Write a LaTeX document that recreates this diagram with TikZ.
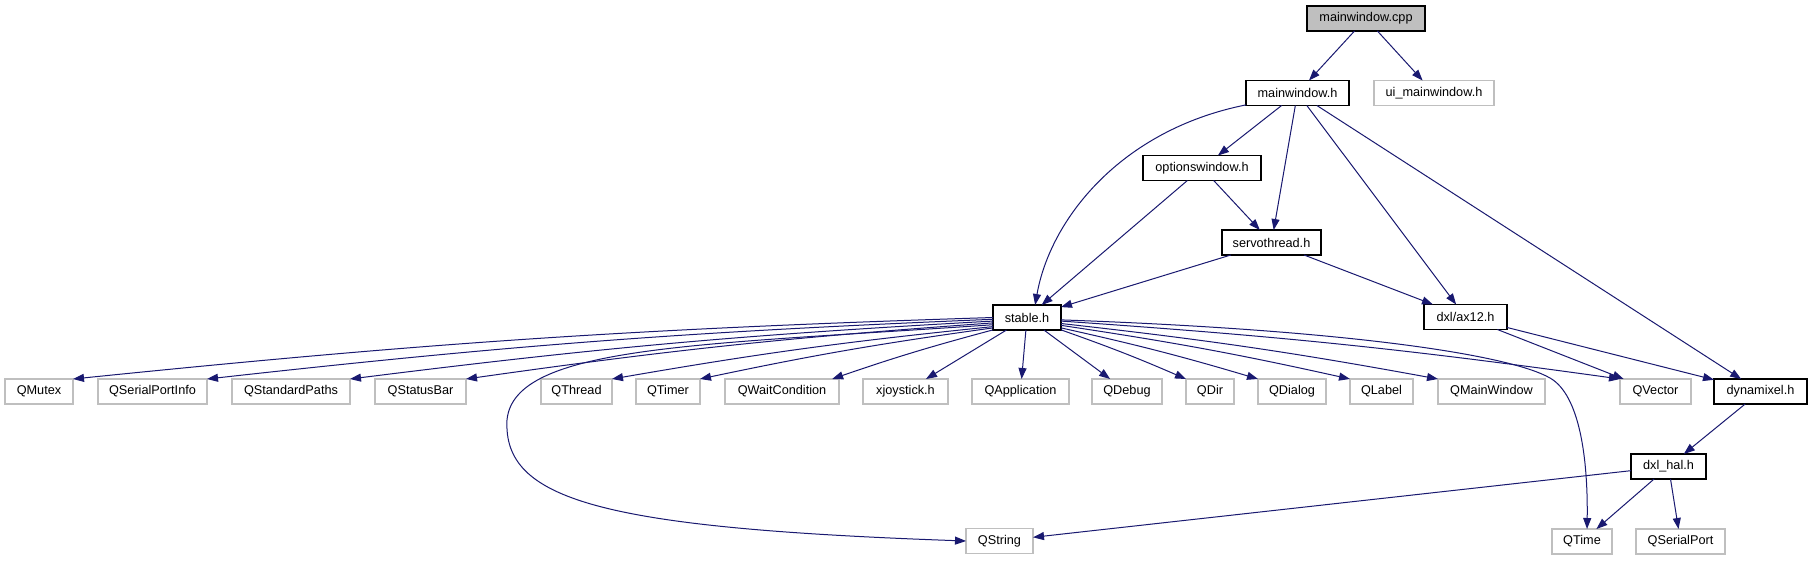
\documentclass[tikz,border=0pt]{standalone}
\usepackage{fontspec}
\setmainfont{Liberation Sans}
\usetikzlibrary{arrows.meta}
\definecolor{edgeblue}{HTML}{191970}
\definecolor{lgray}{HTML}{BFBFBF}
\tikzset{
  box/.style={draw=black, line width=1.1pt, minimum height=25pt, inner sep=0pt, outer sep=0pt,
    font=\fontsize{12.7}{15}\selectfont, text=black},
  ext/.style={box, draw=lgray},
  edge/.style={draw=edgeblue, line width=1pt, -{Triangle[length=11pt,width=8pt]}},
}
\begin{document}
\begin{tikzpicture}[x=1pt,y=-1pt]
\fill[white] (0,0) rectangle (1812,560);
\useasboundingbox (0,0) rectangle (1812,560);
% nodes
\node[box,fill=lgray,minimum width=118pt] (cpp) at (1366,18.5) {mainwindow.cpp};
\node[box,minimum width=103pt] (mwh) at (1297.5,93) {mainwindow.h};
\node[ext,minimum width=120pt] (ui) at (1434,93) {ui\_mainwindow.h};
\node[box,minimum width=118pt] (opt) at (1202,168) {optionswindow.h};
\node[box,minimum width=99pt] (servo) at (1271.5,242.5) {servothread.h};
\node[box,minimum width=68pt] (stable) at (1027,317.5) {stable.h};
\node[box,minimum width=83pt] (ax12) at (1465.5,317) {dxl/ax12.h};
\node[ext,minimum width=68pt] (qmutex) at (39,391.5) {QMutex};
\node[ext,minimum width=109pt] (qspi) at (152.5,391.5) {QSerialPortInfo};
\node[ext,minimum width=118pt] (qsp) at (291,391.5) {QStandardPaths};
\node[ext,minimum width=91pt] (qsb) at (420.5,391.5) {QStatusBar};
\node[ext,minimum width=71pt] (qthread) at (576.5,391.5) {QThread};
\node[ext,minimum width=64pt] (qtimer) at (668,391.5) {QTimer};
\node[ext,minimum width=114pt] (qwait) at (782,391.5) {QWaitCondition};
\node[ext,minimum width=85pt] (xjoy) at (905.5,391.5) {xjoystick.h};
\node[ext,minimum width=97pt] (qapp) at (1020.5,391.5) {QApplication};
\node[ext,minimum width=70pt] (qdebug) at (1127,391.5) {QDebug};
\node[ext,minimum width=48pt] (qdir) at (1210,391.5) {QDir};
\node[ext,minimum width=68pt] (qdialog) at (1292,391.5) {QDialog};
\node[ext,minimum width=63pt] (qlabel) at (1381.5,391.5) {QLabel};
\node[ext,minimum width=107pt] (qmw) at (1491.5,391.5) {QMainWindow};
\node[ext,minimum width=71pt] (qvector) at (1655.5,391.5) {QVector};
\node[box,minimum width=93pt] (dyn) at (1760.5,391.5) {dynamixel.h};
\node[box,minimum width=75pt] (hal) at (1668.5,466.5) {dxl\_hal.h};
\node[ext,minimum width=67pt] (qstring) at (999.5,541) {QString};
\node[ext,minimum width=60pt] (qtime) at (1582,541.5) {QTime};
\node[ext,minimum width=89pt] (qserial) at (1680.5,541.5) {QSerialPort};
% edges
\draw[edge] (cpp) -- (mwh);
\draw[edge] (cpp) -- (ui);
\draw[edge] (mwh.193) .. controls (1120,130) and (1050,220) .. (stable.57);
\draw[edge] (mwh) -- (opt);
\draw[edge] (mwh) -- (servo);
\draw[edge] (mwh) -- (ax12);
\draw[edge] (mwh) -- (dyn);
\draw[edge] (opt) -- (stable);
\draw[edge] (opt) -- (servo);
\draw[edge] (servo) -- (stable);
\draw[edge] (servo) -- (ax12);
\draw[edge] (ax12) -- (qvector);
\draw[edge] (ax12) -- (dyn);
\draw[edge] (dyn) -- (hal);
\draw[edge] (hal) -- (qstring);
\draw[edge] (hal) -- (qtime);
\draw[edge] (hal) -- (qserial);
% stable.h fan
\draw[edge] (stable.180) to[bend right=2] (qmutex.north east);
\draw[edge] (stable.183) to[bend right=2] (qspi.north east);
\draw[edge] (stable.186) to[bend right=2] (qsp.north east);
\draw[edge] (stable.189) to[bend right=2] (qsb.north east);
\draw[edge] (stable.192) .. controls (700,345) and (514,345) .. (507,420)
   .. controls (503,500) and (600,528) .. (qstring.west);
\draw[edge] (stable.195) to[bend right=2] (qthread.north east);
\draw[edge] (stable.197) to[bend right=2] (qtimer.north east);
\draw[edge] (stable.200) to[bend right=2] (qwait.14);
\draw[edge] (stable) -- (xjoy);
\draw[edge] (stable) -- (qapp);
\draw[edge] (stable) -- (qdebug);
\draw[edge] (stable.340) to[bend left=2] (qdir.north west);
\draw[edge] (stable.343) to[bend left=2] (qdialog.north west);
\draw[edge] (stable.347) to[bend left=2] (qlabel.north west);
\draw[edge] (stable.350) to[bend left=2] (qmw.north west);
\draw[edge] (stable.354) to[bend left=2] (qvector.north west);
\draw[edge] (stable.356) .. controls (1350,330) and (1510,355) .. (1550,378)
   .. controls (1580,395) and (1588,460) .. (qtime.68);
\end{tikzpicture}
\end{document}
